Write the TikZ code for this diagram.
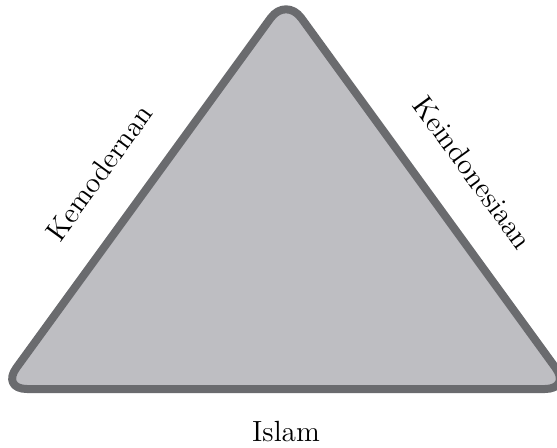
\documentclass[tikz,border=0pt]{standalone}
\usepackage{fontspec}
\usetikzlibrary{calc}
\definecolor{sidegray}{RGB}{106,107,110}
\definecolor{facegray}{RGB}{190,190,194}
\begin{document}
\begin{tikzpicture}[x=0.5pt,y=0.5pt]
\tikzstyle{every node}=[font=\fontsize{14.6}{17}\selectfont]
\tikzstyle{face}=[draw=sidegray, fill=facegray, line width=4pt, rounded corners=13pt, line join=round]
\tikzstyle{side label}=[inner sep=0pt]
\useasboundingbox (0,0) rectangle (557,447);

\coordinate (L) at (1,58);
\coordinate (R) at (571,58);
\coordinate (T) at (286,450);
\coordinate (LT) at ($(L)!0.48!(T)$);
\coordinate (RT) at ($(R)!0.48!(T)$);

\draw[face] (L) -- (R) -- (T) -- cycle;

\node[side label, rotate=54] (Kem) at ($(LT)!24pt!90:(T)$) {Kemodernan};
\node[side label, rotate=-54] (Kei) at ($(RT)!24pt!-90:(T)$) {Keindonesiaan};
\node[side label] (Isl) at ($(L)!0.5!(R)+(0,-43)$) {Islam};

\end{tikzpicture}
\end{document}
